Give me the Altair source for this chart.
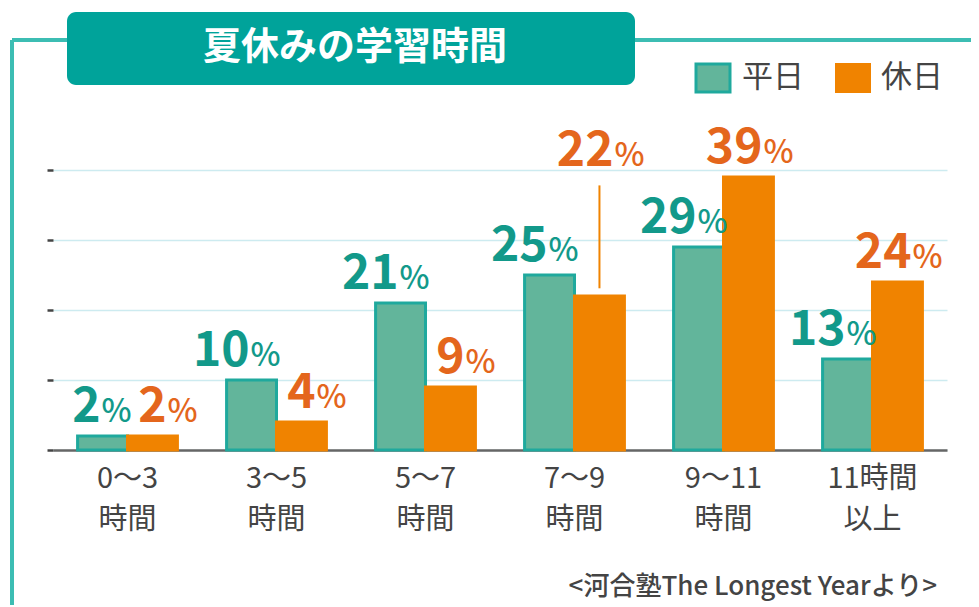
import altair as alt
import pandas as pd

# ---- data ----
categories = ["0〜3\n時間", "3〜5\n時間", "5〜7\n時間", "7〜9\n時間", "9〜11\n時間", "11時間\n以上"]
series = ["平日", "休日"]
weekday = [2, 10, 21, 25, 29, 13]
holiday = [2, 4, 9, 22, 39, 24]
title_text = "夏休みの学習時間"
source_text = "<河合塾The Longest Yearより>"

# the 22% label is lifted above its neighbour and tied to its bar with a leader line
callout_cat = "7〜9\n時間"
callout_series = "休日"
callout_label_value = 38.6

TEAL = "#00a39a"
BAR_TEAL = "#62b59b"
BAR_TEAL_STROKE = "#1fa99d"
ORANGE = "#f08300"
TXT_TEAL = "#12998a"
TXT_ORANGE = "#e4661c"
GRAY = "#444444"
FONT = "Noto Sans CJK JP"

rows = []
for c, w, h in zip(categories, weekday, holiday):
    rows.append({"cat": c, "series": "平日", "value": w})
    rows.append({"cat": c, "series": "休日", "value": h})
df = pd.DataFrame(rows)
df["num"] = df["value"].astype(str)
df["pct"] = "%"
df["label_y"] = df["value"].astype(float)
mask = (df["cat"] == callout_cat) & (df["series"] == callout_series)
df.loc[mask, "label_y"] = callout_label_value

W, H = 894, 280

x_enc = alt.X("cat:N", sort=categories,
              scale=alt.Scale(paddingInner=0.33, paddingOuter=0.165),
              axis=alt.Axis(title=None, labelExpr="split(datum.label, '\\n')",
                            labelFont=FONT, labelFontSize=29, labelColor=GRAY,
                            labelLineHeight=41, labelPadding=14, labelAngle=0,
                            ticks=False, domainColor="#666666", domainWidth=2.5,
                            labelBaseline="top"))
xo_enc = alt.XOffset("series:N", sort=series)
y_scale = alt.Scale(domain=[0, 40], nice=False)

base = alt.Chart(df)

bars = base.mark_bar(strokeWidth=3).encode(
    x=x_enc,
    xOffset=xo_enc,
    y=alt.Y("value:Q", scale=y_scale,
            axis=alt.Axis(title=None, labels=False, values=[0, 10, 20, 30, 40],
                          tickSize=6, tickColor="#444444", tickWidth=2.5,
                          domain=False, gridColor="#cdebf0", gridWidth=1.6)),
    fill=alt.Fill("series:N", scale=alt.Scale(domain=series, range=[BAR_TEAL, ORANGE]), legend=None),
    stroke=alt.Stroke("series:N", scale=alt.Scale(domain=series, range=[BAR_TEAL_STROKE, ORANGE]), legend=None),
)

def labels(ser, color, dx):
    src = base.transform_filter(alt.datum.series == ser)
    num = src.mark_text(font=FONT, fontSize=48, fontWeight="bold", color=color,
                        align="right", baseline="alphabetic", dx=dx, dy=-14).encode(
        x=alt.X("cat:N", sort=categories), xOffset=xo_enc,
        y=alt.Y("label_y:Q", scale=y_scale), text="num:N")
    pct = src.mark_text(font=FONT, fontSize=32, fontWeight=500, color=color,
                        align="left", baseline="alphabetic", dx=dx + 1, dy=-14).encode(
        x=alt.X("cat:N", sort=categories), xOffset=xo_enc,
        y=alt.Y("label_y:Q", scale=y_scale), text="pct:N")
    return num + pct

lab_teal = labels("平日", TXT_TEAL, -2)
lab_orange = labels("休日", TXT_ORANGE, 14)

leader = base.transform_filter(
    (alt.datum.cat == callout_cat) & (alt.datum.series == callout_series)
).mark_rule(color=ORANGE, strokeWidth=2).encode(
    x=alt.X("cat:N", sort=categories), xOffset=xo_enc,
    y=alt.Y("value:Q", scale=y_scale), y2=alt.Y2("label_y:Q"),
).transform_calculate(value="datum.value + 1.1", label_y="datum.label_y - 0.8")

# decoration: frame, title box, legend, source (pixel coordinates)
one = pd.DataFrame({"k": [0]})
deco = alt.Chart(one)
frame_v = deco.mark_rule(color="#3cbdb3", strokeWidth=4).encode(
    x=alt.value(-41), y=alt.value(-130), y2=alt.value(435))
frame_h = deco.mark_rule(color="#3cbdb3", strokeWidth=4).encode(
    x=alt.value(-41), x2=alt.value(930), y=alt.value(-130))
title_box = deco.mark_rect(color=TEAL, cornerRadius=9).encode(
    x=alt.value(14), x2=alt.value(582), y=alt.value(-158), y2=alt.value(-85))
title = deco.mark_text(text=title_text, font=FONT, fontSize=38, fontWeight="bold",
                       color="white", align="center", baseline="middle").encode(
    x=alt.value(302), y=alt.value(-122))
leg_sq1 = deco.mark_rect(fill=BAR_TEAL, stroke=BAR_TEAL_STROKE, strokeWidth=3).encode(
    x=alt.value(643), x2=alt.value(677), y=alt.value(-106), y2=alt.value(-78))
leg_t1 = deco.mark_text(text="平日", font=FONT, fontSize=31, color=GRAY,
                        align="left", baseline="middle").encode(x=alt.value(689), y=alt.value(-92))
leg_sq2 = deco.mark_rect(fill=ORANGE).encode(
    x=alt.value(782), x2=alt.value(818), y=alt.value(-107), y2=alt.value(-77))
leg_t2 = deco.mark_text(text="休日", font=FONT, fontSize=31, color=GRAY,
                        align="left", baseline="middle").encode(x=alt.value(828), y=alt.value(-92))
source = deco.mark_text(text=source_text, font=FONT, fontSize=26, fontWeight=500, color=GRAY,
                        align="right", baseline="alphabetic").encode(x=alt.value(884), y=alt.value(425))

chart = alt.layer(
    bars, leader, lab_teal, lab_orange,
    frame_v, frame_h, title_box, title, leg_sq1, leg_t1, leg_sq2, leg_t2, source
).properties(
    width=W, height=H,
    autosize=alt.AutoSizeParams(type="none"),
    padding={"left": 45, "top": 162, "right": 24, "bottom": 155},
    background="white",
).configure_view(stroke=None)

chart.save("out.html", embed_options={"renderer": "svg", "actions": False})
